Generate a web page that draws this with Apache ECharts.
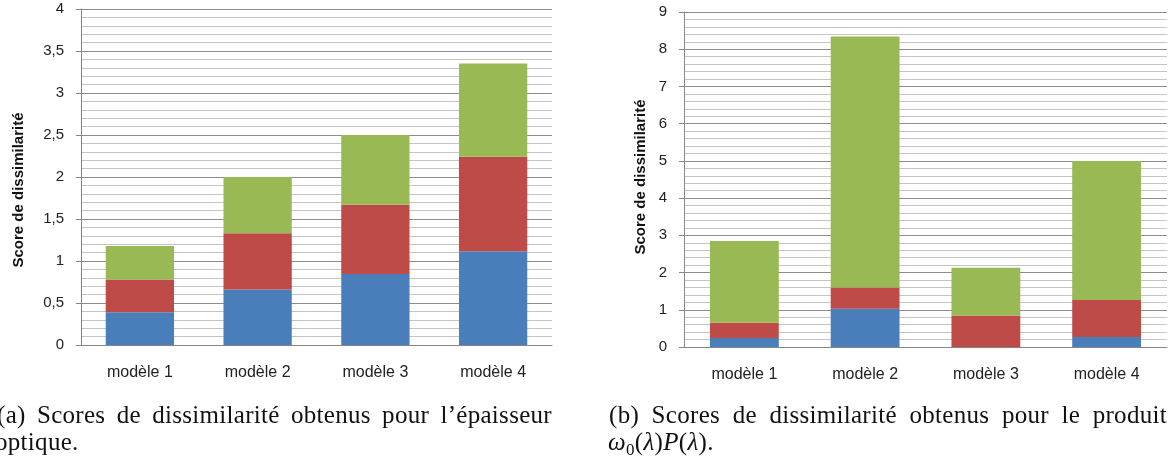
<!DOCTYPE html>
<html>
<head>
<meta charset="utf-8">
<script src="https://cdn.jsdelivr.net/npm/echarts@6/dist/echarts.min.js"></script>
<style>
html,body{margin:0;padding:0;background:#fff;overflow:hidden;}
#wrap{position:relative;width:1168px;height:464px;}
#c{position:absolute;left:0;top:0;width:1168px;height:464px;}
.cap{position:absolute;font-family:"Liberation Serif","DejaVu Serif",serif;font-size:25px;color:#111;white-space:nowrap;line-height:28px;letter-spacing:0.3px;}
.just{text-align:justify;text-align-last:justify;}
.cap sub{font-size:17px;line-height:0;vertical-align:-5px;}
</style>
</head>
<body>
<div id="wrap">
<div id="c"></div>
<div class="cap just" id="capA1" style="left:-3px;top:401px;width:555px;"></div>
<div class="cap" id="capA2" style="left:-5px;top:428px;"></div>
<div class="cap just" id="capB1" style="left:609px;top:401px;width:558px;"></div>
<div class="cap" id="capB2" style="left:608px;top:428px;"></div>
</div>
<script>
// ---- data ----
const categories = ['modèle 1', 'modèle 2', 'modèle 3', 'modèle 4'];
// (a) épaisseur optique — stacked components
const aBlue  = [0.39, 0.66, 0.845, 1.115];
const aRed   = [0.39, 0.67, 0.825, 1.125];
const aGreen = [0.40, 0.67, 0.83, 1.11];
// (b) produit ω0(λ)P(λ) — stacked components
const bBlue  = [0.24, 1.03, 0.0, 0.27];
const bRed   = [0.41, 0.57, 0.845, 0.995];
const bGreen = [2.20, 6.74, 1.285, 3.735];
const yTitle = 'Score de dissimilarité';
const captionA1 = '(a) Scores de dissimilarité obtenus pour l\u2019épaisseur';
const captionA2 = 'optique.';
const captionB1 = '(b) Scores de dissimilarité obtenus pour le produit';
const captionB2 = '<i>ω</i><sub>0</sub>(<i>λ</i>)<i>P</i>(<i>λ</i>).';

document.getElementById('capA1').textContent = captionA1;
document.getElementById('capA2').textContent = captionA2;
document.getElementById('capB1').textContent = captionB1;
document.getElementById('capB2').innerHTML = captionB2;

const COLORS = ['#4A7EBB', '#BE4B48', '#98B954'];
const axisGray = '#868686';
const tickFont = '"Liberation Sans", Arial, sans-serif';

function yAxisCfg(gridIndex, max, interval, fmt) {
  return {
    type: 'value', gridIndex, min: 0, max, interval,
    axisLine: {show: true, lineStyle: {color: axisGray, width: 1}},
    axisTick: {show: true, length: 5, lineStyle: {color: axisGray}},
    axisLabel: {color: '#222', fontSize: 15, fontFamily: tickFont, margin: 17, formatter: fmt},
    splitLine: {show: true, lineStyle: {color: '#8C8C8C', width: 1}},
    minorTick: {show: false, splitNumber: 5},
    minorSplitLine: {show: true, lineStyle: {color: '#C4C4C4', width: 1}}
  };
}
function xAxisCfg(gridIndex) {
  return {
    type: 'category', gridIndex, data: categories,
    axisLine: {show: true, lineStyle: {color: axisGray, width: 1}},
    axisTick: {show: false},
    axisLabel: {color: '#222', fontSize: 16, fontFamily: tickFont, margin: 20}
  };
}
function bar(name, data, idx, color, w) {
  return {
    name, type: 'bar', stack: 's' + idx, xAxisIndex: idx, yAxisIndex: idx,
    data, barWidth: w, itemStyle: {color}, emphasis: {disabled: true}, animation: false
  };
}

const chart = echarts.init(document.getElementById('c'), null, {renderer: 'canvas'});
chart.setOption({
  animation: false,
  grid: [
    {left: 81, right: 616, top: 9, bottom: 119},
    {left: 684, right: 1, top: 12, bottom: 117}
  ],
  xAxis: [xAxisCfg(0), xAxisCfg(1)],
  yAxis: [
    yAxisCfg(0, 4, 0.5, v => String(v).replace('.', ',')),
    yAxisCfg(1, 9, 1, v => String(v))
  ],
  series: [
    bar('a1', aBlue, 0, COLORS[0], '58%'),
    bar('a2', aRed, 0, COLORS[1], '58%'),
    bar('a3', aGreen, 0, COLORS[2], '58%'),
    bar('b1', bBlue, 1, COLORS[0], '57%'),
    bar('b2', bRed, 1, COLORS[1], '57%'),
    bar('b3', bGreen, 1, COLORS[2], '57%')
  ],
  graphic: [
    {type: 'text', x: 19, y: 190, rotation: Math.PI / 2,
     style: {text: yTitle, font: 'bold 15px "Liberation Sans", Arial, sans-serif', fill: '#111', align: 'center', verticalAlign: 'middle'}},
    {type: 'text', x: 641, y: 177, rotation: Math.PI / 2,
     style: {text: yTitle, font: 'bold 15px "Liberation Sans", Arial, sans-serif', fill: '#111', align: 'center', verticalAlign: 'middle'}}
  ]
});
</script>
</body>
</html>
